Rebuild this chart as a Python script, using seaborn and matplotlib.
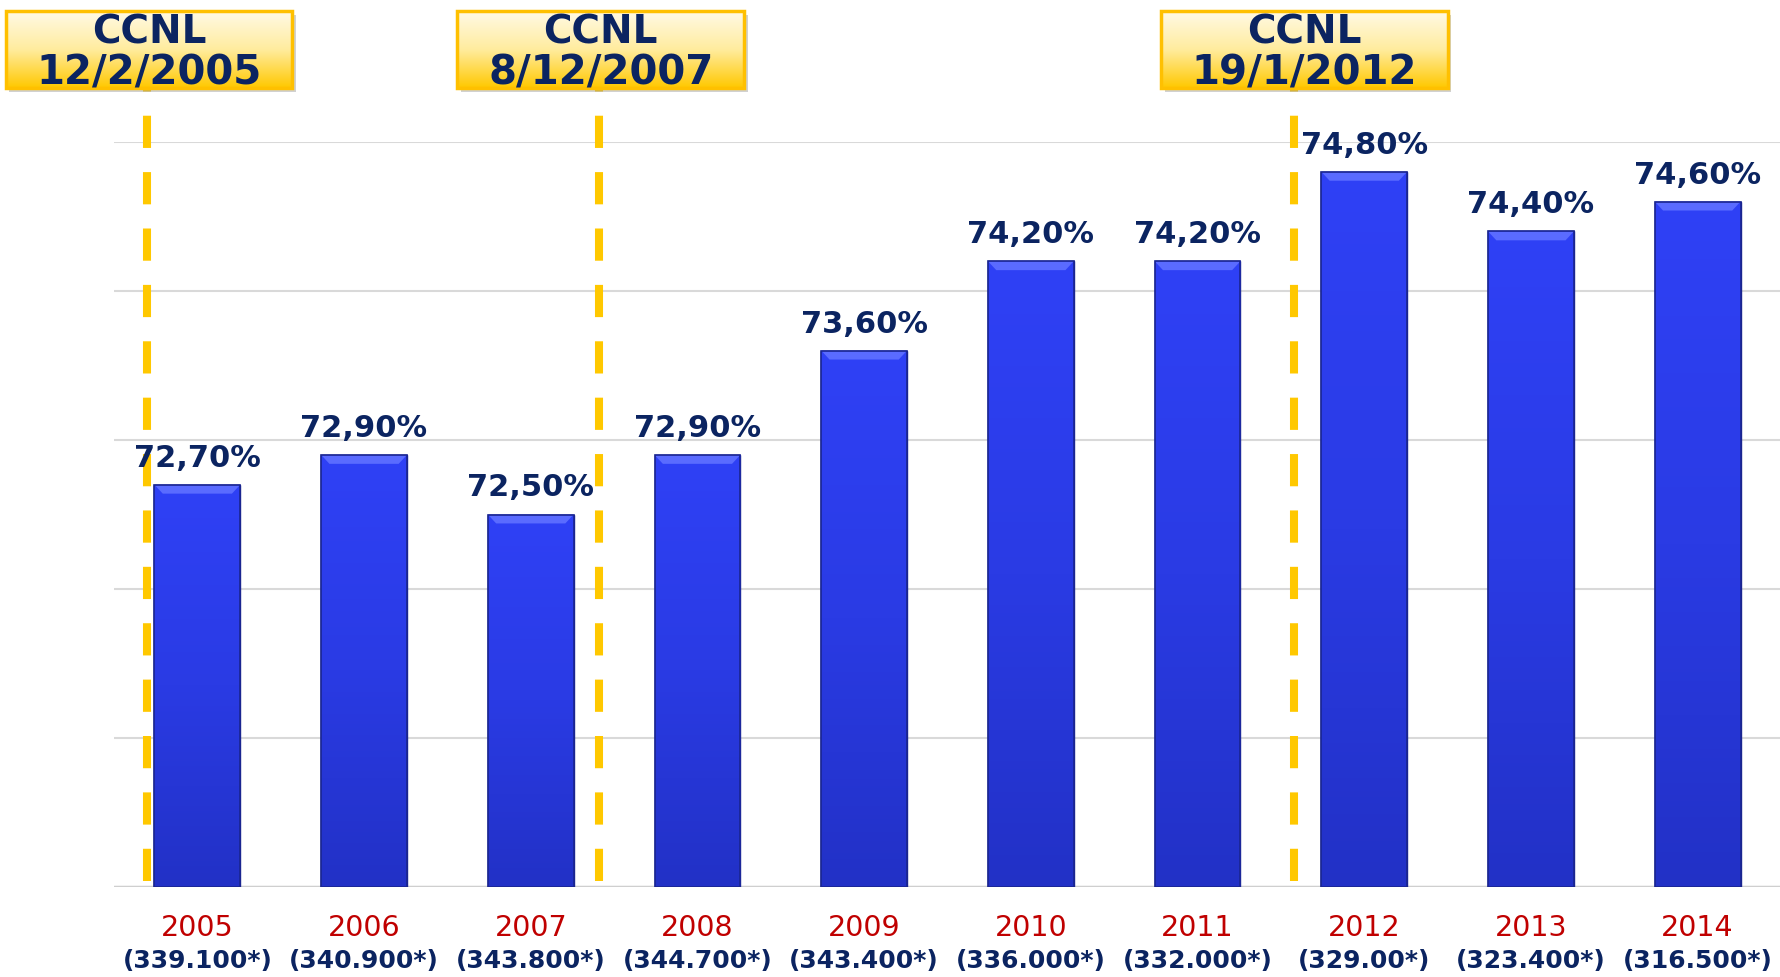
import numpy as np
import pandas as pd
import matplotlib
matplotlib.use('Agg')
import matplotlib.pyplot as plt
import seaborn as sns
from matplotlib.patches import Rectangle, Polygon
from matplotlib.colors import LinearSegmentedColormap

# dati
anni = ['2005', '2006', '2007', '2008', '2009', '2010', '2011', '2012', '2013', '2014']
tasso = [72.7, 72.9, 72.5, 72.9, 73.6, 74.2, 74.2, 74.8, 74.4, 74.6]
addetti = ['(339.100*)', '(340.900*)', '(343.800*)', '(344.700*)', '(343.400*)',
           '(336.000*)', '(332.000*)', '(329.00*)', '(323.400*)', '(316.500*)']
ccnl_date = ['12/2/2005', '8/12/2007', '19/1/2012']
ccnl_x = [-0.30, 2.41, 6.58]      # linee tratteggiate, sull'asse delle categorie
ccnl_box_x = [-0.29, 2.42, 6.64]  # centro dei riquadri

navy = '#0B2461'
rosso = '#C00000'
oro = '#FFC800'

sns.set_theme(style='white')
plt.rcParams['font.family'] = ['DejaVu Sans']

fig = plt.figure(figsize=(17.81, 9.77), dpi=100)
ax = fig.add_axes([114 / 1781, 90 / 977, 1667 / 1781, 745 / 977])

df = pd.DataFrame({'anno': anni, 'tasso': tasso})
sns.barplot(data=df, x='anno', y='tasso', color='#2B3CEB', saturation=1,
            width=0.515, ax=ax, zorder=3, edgecolor='#1A2590', linewidth=1)

ax.set_ylim(70, 75)
ax.set_xlim(-0.5, 9.5)
ax.set_yticks(np.arange(70, 75.5, 1))
ax.set_yticklabels([])
ax.set_ylabel('')
ax.set_xlabel('')
ax.grid(axis='y', color='#D9D9D9', lw=1.5, zorder=0)
ax.grid(axis='x', visible=False)
for s in ax.spines.values():
    s.set_visible(False)
ax.axhline(70, color='#CFCFCF', lw=2.5, zorder=2)
ax.tick_params(axis='both', length=0)
ax.set_xticklabels([])

# gradiente e smusso sulle barre
cmap_bar = LinearSegmentedColormap.from_list('bar', ['#2F41F6', '#2A3BE4', '#2231C6'])
grad = np.linspace(0, 1, 256).reshape(-1, 1)
for p in ax.patches:
    x0, w, top = p.get_x(), p.get_width(), p.get_height()
    im = ax.imshow(grad, extent=[x0, x0 + w, 70, top], aspect='auto',
                   cmap=cmap_bar, origin='upper', zorder=3.2)
    im.set_clip_path(p)
    dx, dy = 0.05, 0.06
    ax.add_patch(Polygon([[x0, top], [x0 + w, top], [x0 + w - dx, top - dy], [x0 + dx, top - dy]],
                         closed=True, fc='#5A6BFF', ec='none', zorder=3.4))
    ax.add_patch(Rectangle((x0, 70), w, top - 70, fill=False, ec='#1A2590', lw=1.2, zorder=3.5))

# etichette valori
for i, v in enumerate(tasso):
    ax.annotate(f'{v:.2f}'.replace('.', ',') + '%', xy=(i, v), xytext=(0, 13),
                textcoords='offset points', ha='center', va='baseline',
                fontsize=22, fontweight='bold', color=navy, zorder=6)

# anni e addetti sotto l'asse
for i, (a, n) in enumerate(zip(anni, addetti)):
    ax.annotate(a, xy=(i, 0), xycoords=('data', 'axes fraction'), xytext=(0, -35),
                textcoords='offset points', ha='center', va='baseline',
                fontsize=20.5, color=rosso, annotation_clip=False)
    ax.annotate(n, xy=(i, 0), xycoords=('data', 'axes fraction'), xytext=(0, -58),
                textcoords='offset points', ha='center', va='baseline',
                fontsize=18, fontweight='bold', color=navy, annotation_clip=False)

# linee tratteggiate e riquadri CCNL
cmap_box = LinearSegmentedColormap.from_list('box', ['#FFFAE6', '#FFEC9E', '#FFC800'])
for xc, bxc, d in zip(ccnl_x, ccnl_box_x, ccnl_date):
    ax.plot([xc, xc], [70.04, 75.37], color=oro, lw=5.8, dashes=(4, 3),
            solid_capstyle='butt', dash_capstyle='butt', clip_on=False, zorder=4)
    bw, bh = 1.72, 0.515
    bx, by = bxc - bw / 2, 75.365
    ax.add_patch(Rectangle((bx + 0.022, by - 0.03), bw, bh, fc='#9A9A9A', alpha=0.45,
                           ec='none', clip_on=False, zorder=7))
    im = ax.imshow(grad, extent=[bx, bx + bw, by, by + bh], aspect='auto',
                   cmap=cmap_box, origin='upper', zorder=7.5)
    im.set_clip_on(False)
    ax.add_patch(Rectangle((bx, by), bw, bh, fill=False, ec='#FFC000', lw=2.5,
                           clip_on=False, zorder=8))
    # righe di testo: basi a 43 px e 84 px dal bordo superiore della figura
    ax.text(bxc, 70 + (887 - 43) / 149, 'CCNL', ha='center', va='baseline', fontsize=28,
            fontweight='bold', color=navy, zorder=9, clip_on=False)
    ax.text(bxc, 70 + (887 - 84) / 149, d, ha='center', va='baseline', fontsize=29,
            fontweight='bold', color=navy, zorder=9, clip_on=False)

ax.set_ylim(70, 75)
ax.set_xlim(-0.5, 9.5)

fig.savefig('out.png', dpi=100)
